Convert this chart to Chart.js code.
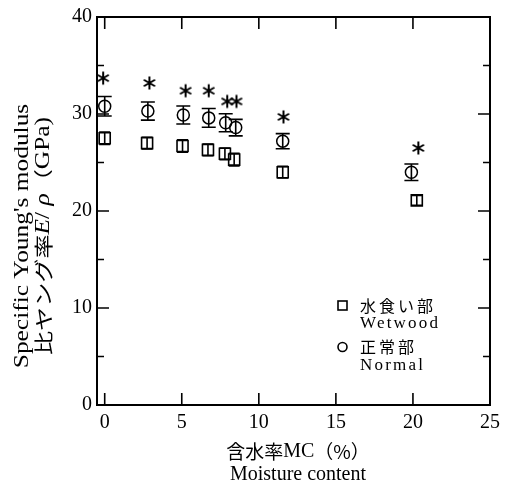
<!DOCTYPE html>
<html>
<head>
<meta charset="utf-8">
<script src="https://cdn.jsdelivr.net/npm/chart.js@4.4.1/dist/chart.umd.min.js"></script>
<style>
body { margin: 0; background: #fff; }
#wrap { width: 507px; height: 486px; }
</style>
</head>
<body>
<div id="wrap"><canvas id="myChart" width="507" height="486"></canvas></div>
<script>
// wetwood (水食い部)
var mcWet = [0.0, 2.75, 5.05, 6.7, 7.8, 8.4, 11.55, 20.25];
var eWet = [27.5, 27.0, 26.7, 26.3, 25.9, 25.3, 24.0, 21.1];
var errWet = [0.65, 0.6, 0.65, 0.6, 0.6, 0.65, 0.6, 0.5];

// normal (正常部)
var mcNormal = [0.0, 2.8, 5.1, 6.75, 7.85, 8.5, 11.55, 19.9];
var eNormal = [30.8, 30.3, 29.9, 29.6, 29.1, 28.6, 27.2, 24.0];
var errNormal = [1.0, 0.93, 0.93, 0.97, 0.93, 0.85, 0.78, 0.85];

// significance marks
var mcStar = [-0.1, 2.9, 5.25, 6.75, 7.95, 8.55, 11.6, 20.35];
var eStar = [33.7, 33.2, 32.4, 32.4, 31.3, 31.3, 29.7, 26.5];

var xTicks = [0, 5, 10, 15, 20, 25];
var yTicks = [0, 10, 20, 30, 40];
var yMinor = [5, 15, 25, 35];

var serif = "'Liberation Serif', 'Times New Roman', serif";
var cjk = "'Noto Sans CJK JP', sans-serif";

var toPoints = function (xs, ys) {
    return xs.map(function (x, i) { return { x: x, y: ys[i] }; });
};

var makeStar = function () {
    var c = document.createElement('canvas');
    c.width = 16; c.height = 16;
    var g = c.getContext('2d');
    g.strokeStyle = '#000';
    g.lineWidth = 2;
    var r = 6.5;
    [90, 30, 150].forEach(function (a) {
        var rad = a * Math.PI / 180;
        g.beginPath();
        g.moveTo(8 + r * Math.cos(rad), 8 - r * Math.sin(rad));
        g.lineTo(8 - r * Math.cos(rad), 8 + r * Math.sin(rad));
        g.stroke();
    });
    return c;
};

var errorBars = {
    id: 'errorBars',
    beforeDatasetsDraw: function (chart) {
        var ctx = chart.ctx;
        var xs = chart.scales.x, ys = chart.scales.y;
        ctx.save();
        ctx.strokeStyle = '#000';
        ctx.lineWidth = 1.6;
        chart.data.datasets.forEach(function (ds) {
            if (!ds.errors) return;
            ds.data.forEach(function (p, i) {
                var px = xs.getPixelForValue(p.x);
                var y1 = ys.getPixelForValue(p.y + ds.errors[i]);
                var y2 = ys.getPixelForValue(p.y - ds.errors[i]);
                var w = ds.capWidth / 2;
                ctx.beginPath();
                ctx.moveTo(px, y1); ctx.lineTo(px, y2);
                ctx.moveTo(px - w, y1); ctx.lineTo(px + w, y1);
                ctx.moveTo(px - w, y2); ctx.lineTo(px + w, y2);
                ctx.stroke();
            });
        });
        ctx.restore();
    }
};

var frame = {
    id: 'frame',
    afterDraw: function (chart) {
        var ctx = chart.ctx;
        var a = chart.chartArea;
        var xs = chart.scales.x, ys = chart.scales.y;
        ctx.save();
        ctx.strokeStyle = '#000';
        ctx.lineWidth = 2;
        ctx.strokeRect(a.left, a.top, a.right - a.left, a.bottom - a.top);
        ctx.lineWidth = 1.6;
        ctx.beginPath();
        xTicks.forEach(function (v) {
            var px = xs.getPixelForValue(v);
            ctx.moveTo(px, a.bottom); ctx.lineTo(px, a.bottom - 12);
            ctx.moveTo(px, a.top); ctx.lineTo(px, a.top + 12);
        });
        yTicks.forEach(function (v) {
            var py = ys.getPixelForValue(v);
            ctx.moveTo(a.left, py); ctx.lineTo(a.left + 12, py);
            ctx.moveTo(a.right, py); ctx.lineTo(a.right - 12, py);
        });
        yMinor.forEach(function (v) {
            var py = ys.getPixelForValue(v);
            ctx.moveTo(a.left, py); ctx.lineTo(a.left + 7, py);
            ctx.moveTo(a.right, py); ctx.lineTo(a.right - 7, py);
        });
        ctx.stroke();

        // x title
        ctx.fillStyle = '#000';
        ctx.textAlign = 'left';
        ctx.textBaseline = 'middle';
        var cx = 298;
        var parts = [['含水率', '19px ' + cjk], ['MC', '20px ' + serif], ['（%）', '19px ' + cjk]];
        var total = 0;
        parts.forEach(function (p) { ctx.font = p[1]; total += ctx.measureText(p[0]).width; });
        var x0 = cx - total / 2;
        parts.forEach(function (p) { ctx.font = p[1]; ctx.fillText(p[0], x0, 452); x0 += ctx.measureText(p[0]).width; });
        ctx.textAlign = 'center';
        ctx.font = '20px ' + serif;
        ctx.fillText('Moisture content', cx, 475);

        // y title (stretched along its length like the original)
        ctx.save();
        ctx.translate(0, 236);
        ctx.rotate(-Math.PI / 2);
        ctx.scale(1.27, 1);
        ctx.textAlign = 'center';
        ctx.font = '20px ' + serif;
        ctx.fillText("Specific Young's modulus", 0, 23);
        var yparts = [['比ヤング率', '19px ' + cjk], ['E', 'italic 20px ' + serif], ['/ ', '20px ' + serif],
            ['ρ', 'italic 20px ' + serif], ['（', '19px ' + cjk], ['GPa)', '20px ' + serif]];
        ctx.textAlign = 'left';
        total = 0;
        yparts.forEach(function (p) { ctx.font = p[1]; total += ctx.measureText(p[0]).width; });
        x0 = -total / 2;
        yparts.forEach(function (p) {
            ctx.font = p[1];
            ctx.fillText(p[0], x0, 44);
            x0 += ctx.measureText(p[0]).width;
        });
        ctx.restore();

        // legend
        ctx.lineWidth = 1.6;
        ctx.strokeRect(338, 301, 9, 9);
        ctx.beginPath();
        ctx.arc(342.5, 347, 4.5, 0, Math.PI * 2);
        ctx.stroke();
        ctx.textAlign = 'left';
        ctx.letterSpacing = '3px';
        ctx.font = '16px ' + cjk;
        ctx.fillText('水食い部', 360, 306);
        ctx.fillText('正常部', 360, 347);
        ctx.letterSpacing = '2.2px';
        ctx.font = '17px ' + serif;
        ctx.fillText('Wetwood', 360, 324);
        ctx.fillText('Normal', 360, 366);
        ctx.restore();
    }
};

var ctx = document.getElementById('myChart');
new Chart(ctx, {
    type: 'scatter',
    data: {
        datasets: [
            {
                label: '水食い部 Wetwood',
                data: toPoints(mcWet, eWet),
                errors: errWet,
                capWidth: 11,
                pointStyle: 'rect',
                pointRadius: 7.8,
                borderColor: '#000',
                backgroundColor: 'rgba(0,0,0,0)',
                borderWidth: 1.6
            },
            {
                label: '正常部 Normal',
                data: toPoints(mcNormal, eNormal),
                errors: errNormal,
                capWidth: 14,
                pointStyle: 'circle',
                pointRadius: 6,
                borderColor: '#000',
                backgroundColor: 'rgba(0,0,0,0)',
                borderWidth: 1.5
            },
            {
                label: '*',
                data: toPoints(mcStar, eStar),
                pointStyle: makeStar(),
                pointRadius: 7
            }
        ]
    },
    options: {
        responsive: false,
        animation: false,
        layout: { padding: { top: 13, right: 17, left: 0, bottom: 0 } },
        plugins: { legend: { display: false }, tooltip: { enabled: false } },
        scales: {
            x: {
                type: 'linear',
                min: -0.5,
                max: 25,
                afterBuildTicks: function (scale) {
                    scale.ticks = xTicks.map(function (v) { return { value: v }; });
                },
                afterFit: function (scale) { scale.height = 81; },
                grid: { display: false, drawTicks: false },
                border: { display: false },
                ticks: { color: '#000', padding: 6, maxRotation: 0, font: { family: serif, size: 20 } }
            },
            y: {
                min: 0,
                max: 40,
                afterBuildTicks: function (scale) {
                    scale.ticks = yTicks.map(function (v) { return { value: v }; });
                },
                afterFit: function (scale) { scale.width = 97; },
                grid: { display: false, drawTicks: false },
                border: { display: false },
                ticks: { color: '#000', padding: 5, font: { family: serif, size: 20 } }
            }
        }
    },
    plugins: [errorBars, frame]
});
</script>
</body>
</html>
